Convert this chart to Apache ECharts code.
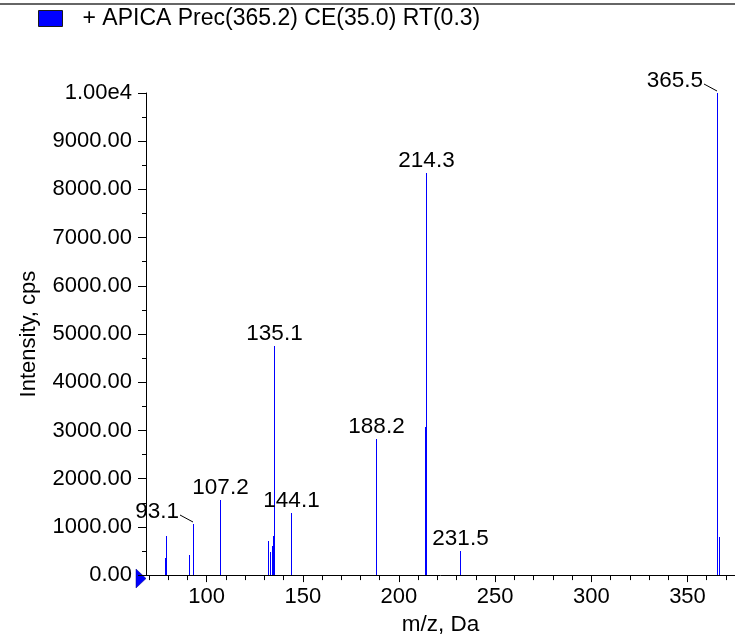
<!DOCTYPE html>
<html>
<head>
<meta charset="utf-8">
<script src="https://cdn.jsdelivr.net/npm/echarts@6/dist/echarts.min.js"></script>
<style>
html,body{margin:0;padding:0;background:#fff;}
#chart{width:735px;height:641px;}
</style>
</head>
<body>
<div id="chart"></div>
<script>
// ---- data ----
const seriesName = '+ APICA Prec(365.2) CE(35.0) RT(0.3)';
const peakMz = [78.4, 79.1, 91.1, 93.1, 106.9, 107.2, 132.1, 132.8, 134.0, 134.4, 135.1, 144.1, 188.2, 213.4, 214.3, 231.5, 365.5, 366.5];
const peakIntensity = [350, 810, 420, 1060, 730, 1550, 710, 470, 600, 810, 4750, 1290, 2830, 3070, 8340, 500, 10000, 780];
const labeledMz = [93.1, 107.2, 135.1, 144.1, 188.2, 214.3, 231.5, 365.5];
const xLabelValues = [100, 150, 200, 250, 300, 350];
const xMinorTickValues = [70, 80, 90, 100, 110, 120, 130, 140, 150, 160, 170, 180, 190, 200, 210, 220, 230, 240, 250, 260, 270, 280, 290, 300, 310, 320, 330, 340, 350, 360, 370];
const yTickLabels = ['0.00', '1000.00', '2000.00', '3000.00', '4000.00', '5000.00', '6000.00', '7000.00', '8000.00', '9000.00', '1.00e4'];

// ---- styles ----
const FONT = '"Liberation Sans", Arial, sans-serif';
const leaderLabels = new Set(['93.1', '365.5']);

const chart = echarts.init(document.getElementById('chart'), null, {renderer: 'canvas'});

const data = peakMz.map((m, i) => [m, peakIntensity[i]]);

function renderPeak(params, api) {
  const x = api.value(0), y = api.value(1);
  const p0 = api.coord([x, 0]);
  const p1 = api.coord([x, y]);
  const px = Math.round(p0[0]);
  const top = Math.round(p1[1]);
  const children = [{
    type: 'rect',
    shape: {x: px, y: top, width: 1, height: Math.round(p0[1]) - top},
    style: {fill: '#0000FF'}
  }];
  const txt = x.toFixed(1);
  if (labeledMz.indexOf(x) >= 0) {
    if (leaderLabels.has(txt)) {
      children.push({
        type: 'text',
        style: {text: txt, x: px - 14, y: top - 12, align: 'right', verticalAlign: 'middle', font: '22.5px ' + FONT, fill: '#000'}
      });
      children.push({
        type: 'line',
        shape: {x1: px - 13, y1: top - 9, x2: px, y2: top - 2},
        style: {stroke: '#000', lineWidth: 1}
      });
    } else {
      children.push({
        type: 'text',
        style: {text: txt, x: px + 0.5, y: top - 12.5, align: 'center', verticalAlign: 'middle', font: '22.5px ' + FONT, fill: '#000'}
      });
    }
  }
  return {type: 'group', children: children};
}

const option = {
  animation: false,
  backgroundColor: '#fff',
  grid: {left: 146, right: 0, top: 93, bottom: 58, containLabel: false},
  legend: {
    left: 38, top: 7, padding: 0,
    itemWidth: 24, itemHeight: 16,
    icon: 'rect',
    data: [seriesName],
    itemStyle: {color: '#0000FF', borderColor: '#1a1a1a', borderWidth: 1},
    textStyle: {fontFamily: FONT, fontSize: 23, color: '#000', padding: [9, 0, 0, 15]}
  },
  xAxis: [{
    type: 'value', position: 'bottom',
    min: 68.5, max: 374.7,
    splitLine: {show: false},
    axisLine: {show: true, lineStyle: {color: '#000', width: 1}},
    axisTick: {show: true, customValues: xMinorTickValues, length: 5, lineStyle: {color: '#000'}},
    axisLabel: {customValues: xLabelValues, fontFamily: FONT, fontSize: 22, color: '#000', margin: 11},
    name: 'm/z, Da', nameLocation: 'middle', nameGap: 35,
    nameTextStyle: {fontFamily: FONT, fontSize: 22.5, color: '#000'}
  }, {
    type: 'value', position: 'bottom',
    min: 68.5, max: 374.7,
    splitLine: {show: false},
    axisLine: {show: false},
    axisTick: {show: true, customValues: xLabelValues, length: 7, lineStyle: {color: '#000'}},
    axisLabel: {show: false}
  }],
  yAxis: {
    type: 'value', min: 0, max: 10000, interval: 1000,
    splitLine: {show: false},
    axisLine: {show: true, lineStyle: {color: '#000', width: 1}},
    axisTick: {show: true, length: 8, lineStyle: {color: '#000'}},
    minorTick: {show: true, splitNumber: 2, length: 4, lineStyle: {color: '#000'}},
    axisLabel: {
      fontFamily: FONT, fontSize: 22, color: '#000', margin: 14,
      formatter: (v) => yTickLabels[Math.round(v / 1000)]
    },
    name: 'Intensity, cps', nameLocation: 'middle', nameGap: 106,
    nameTextStyle: {fontFamily: FONT, fontSize: 22, color: '#000'}
  },
  graphic: [
    {type: 'line', shape: {x1: 0, y1: 4, x2: 735, y2: 4}, style: {stroke: '#333', lineWidth: 1.5}},
    {type: 'polygon', shape: {points: [[136, 569], [146, 578.5], [136, 588]]}, style: {fill: '#0000FF', stroke: '#000080', lineWidth: 0.5}}
  ],
  series: [{
    name: seriesName,
    type: 'custom',
    xAxisIndex: 0,
    itemStyle: {color: '#0000FF'},
    renderItem: renderPeak,
    data: data,
    clip: false
  }]
};
chart.setOption(option);
</script>
</body>
</html>
